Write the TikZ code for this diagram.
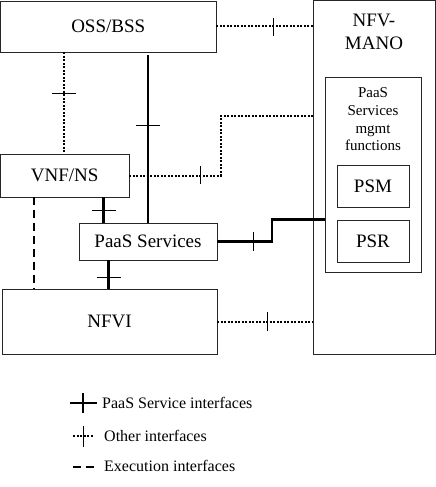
\documentclass[tikz,border=0pt]{standalone}
\usepackage{fontspec}
\setmainfont{Liberation Serif}
\begin{document}
\begin{tikzpicture}[x=1pt,y=-1pt,
  box/.style={draw=black!85,line width=0.9pt,inner sep=0pt,minimum width=#1},
  big/.style={font=\fontsize{19}{23}\selectfont},
  small/.style={font=\fontsize{15}{17.7}\selectfont},
  leg/.style={font=\fontsize{16}{19}\selectfont,anchor=west,inner sep=0pt},
  paasif/.style={line width=2.6pt},
  otherif/.style={line width=2pt,dash pattern=on 2pt off 1.5pt},
  execif/.style={line width=2pt,dash pattern=on 8pt off 5pt},
  tick/.style={line width=1pt}]
\useasboundingbox (0,0) rectangle (436,487);
% boxes
\node[box=215.5pt,minimum height=51pt,big] (oss) at (108.25,26.5) {OSS/BSS};
\node[box=122pt,minimum height=354pt] (mano) at (374,177) {};
\node[big,align=center] (manolabel) at (374,31.5) {NFV-\\MANO};
\node[box=96pt,minimum height=195pt] (mgmt) at (373,174.5) {};
\node[small,align=center] (mgmtlabel) at (373,119.5) {PaaS\\Services\\mgmt\\functions};
\node[box=72pt,minimum height=42pt,big] (psm) at (373,186) {PSM};
\node[box=72pt,minimum height=42pt,big] (psr) at (373,241) {PSR};
\node[box=128.5pt,minimum height=43pt,big] (vnf) at (64.75,175.5) {VNF/NS};
\node[box=138pt,minimum height=37pt,big] (paas) at (148,241.5) {PaaS Services};
\node[box=215pt,minimum height=65pt,big] (nfvi) at (109.5,321.5) {NFVI};
% OSS - MANO
\draw[otherif] (oss.east) -- (oss.east -| mano.west);
\draw[tick] (273,18) -- (273,36);
% OSS - VNF
\draw[otherif] ([xshift=63.5pt]oss.south west) -- ([xshift=63.5pt]vnf.north west);
\draw[tick] (52,93) -- (76,93);
% OSS - PaaS
\draw[paasif] (paas.north) -- ([yshift=-3pt]paas.north |- oss.south);
\draw[tick] (136,125) -- (160,125);
% VNF - MANO
\coordinate (vm1) at (221,175.5);
\coordinate (vm2) at (221,116);
\draw[otherif] (vnf.east) -- (vm1) -- (vm2) -- (vm2 -| mano.west);
\draw[tick] (200,166) -- (200,184);
% VNF - PaaS
\draw[paasif] ([xshift=103.5pt]vnf.south west) -- ([xshift=103.5pt]vnf.south west |- paas.north);
\draw[tick] (92,210) -- (116,210);
% PaaS - NFVI
\draw[paasif] ([xshift=107pt]nfvi.north west |- paas.south) -- ([xshift=107pt]nfvi.north west);
\draw[tick] (97,277) -- (121,277);
% PaaS - MANO
\coordinate (pm1) at (272,241.5);
\coordinate (pm2) at (272,219.5);
\draw[paasif] (paas.east) -- (pm1) -- (pm2) -- (pm2 -| mgmt.west);
\draw[tick] (253,232) -- (253,251);
% VNF - NFVI execution
\draw[execif] ([xshift=33.5pt]vnf.south west) -- ([xshift=32pt]nfvi.north west);
% NFVI - MANO
\draw[otherif] (nfvi.east) -- (nfvi.east -| mano.west);
\draw[tick] (267,312) -- (267,331);
% legend
\coordinate (l1a) at (70,403);
\coordinate (l1b) at (97,403);
\draw[paasif] (l1a) -- (l1b);
\draw[line width=1.6pt] (83,393) -- (83,413);
\node[leg] (leg1) at (102,403) {PaaS Service interfaces};
\coordinate (l2a) at (73,436);
\coordinate (l2b) at (94,436);
\draw[otherif] (l2a) -- (l2b);
\draw[tick] (83,426) -- (83,447);
\node[leg] (leg2) at (104,436) {Other interfaces};
\coordinate (l3a) at (73,467);
\coordinate (l3b) at (98,467);
\draw[execif] (l3a) -- (l3b);
\node[leg] (leg3) at (104,466) {Execution interfaces};
\end{tikzpicture}
\end{document}
